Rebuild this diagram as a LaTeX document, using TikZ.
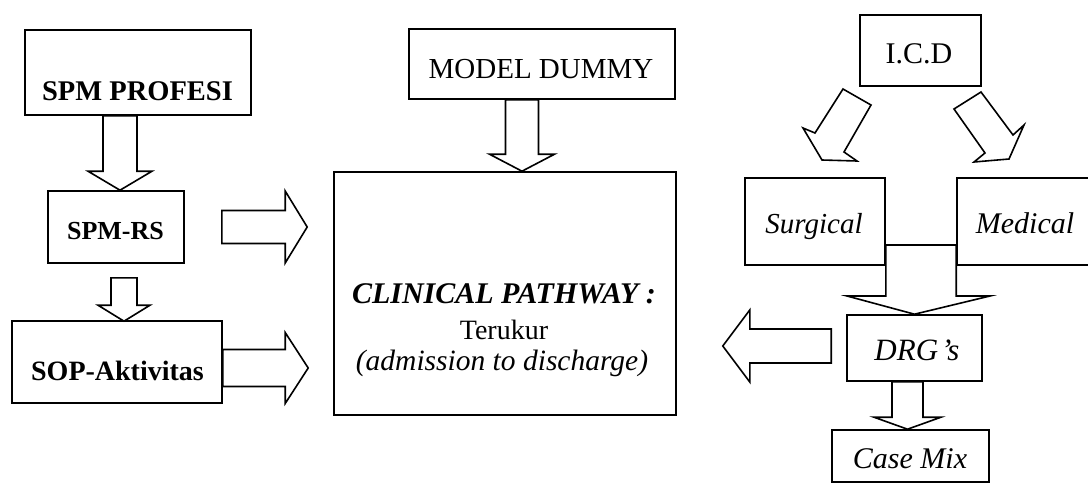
\documentclass[tikz,border=0pt]{standalone}
\usepackage{fontspec}
\setmainfont{Liberation Serif}
\usetikzlibrary{calc}
\newcommand\dnarrow[5]{\draw[barrow] let \p1=#1, \p2=#2 in
  (\x2-#3,\y1) -- (\x2+#3,\y1) -- (\x2+#3,\y2+#5) -- (\x2+#4,\y2+#5) -- (\x2,\y2)
  -- (\x2-#4,\y2+#5) -- (\x2-#3,\y2+#5) -- cycle;}
\newcommand\rtarrow[5]{\draw[barrow] let \p1=#1, \p2=#2 in
  (\x1,\y2+#3) -- (\x2-#5,\y2+#3) -- (\x2-#5,\y2+#4) -- (\x2,\y2)
  -- (\x2-#5,\y2-#4) -- (\x2-#5,\y2-#3) -- (\x1,\y2-#3) -- cycle;}
\newcommand\ltarrow[5]{\draw[barrow] let \p1=#1, \p2=#2 in
  (\x1,\y2+#3) -- (\x2+#5,\y2+#3) -- (\x2+#5,\y2+#4) -- (\x2,\y2)
  -- (\x2+#5,\y2-#4) -- (\x2+#5,\y2-#3) -- (\x1,\y2-#3) -- cycle;}
\begin{document}
\begin{tikzpicture}[x=1pt,y=-1pt,
  box/.style={draw, line width=1.6pt, inner sep=0pt},
  lbl/.style={anchor=base, inner sep=0pt},
  barrow/.style={draw, line width=1.6pt, line join=miter}]
\useasboundingbox (0,0) rectangle (1088,485);

% left column
\node[box, minimum width=226pt, minimum height=85pt] (spmprof) at (138,72.5) {};
\node[lbl, font=\fontsize{28.5}{34}\selectfont\bfseries] (spmproftxt) at (137.5,100) {SPM PROFESI};
\node[box, minimum width=136pt, minimum height=72pt] (spmrs) at (116,227) {};
\node[lbl, font=\fontsize{26}{32}\selectfont\bfseries] (spmrstxt) at (115.5,239) {SPM-RS};
\node[box, minimum width=210pt, minimum height=82pt] (sop) at (117,362) {};
\node[lbl, font=\fontsize{28}{34}\selectfont\bfseries] (soptxt) at (117.5,380) {SOP-Aktivitas};

% centre
\node[box, minimum width=266pt, minimum height=70pt] (model) at (542,64) {};
\node[lbl, font=\fontsize{29}{34}\selectfont] (modeltxt) at (541,78) {MODEL DUMMY};
\node[box, minimum width=342pt, minimum height=243pt] (clin) at (505,293.5) {};
\node[lbl, font=\fontsize{30}{34}\selectfont\bfseries\itshape] (clin1) at (504,303) {CLINICAL PATHWAY :};
\node[lbl, font=\fontsize{28}{34}\selectfont] (clin2) at (504,339) {Terukur};
\node[lbl, font=\fontsize{29.5}{34}\selectfont\itshape] (clin3) at (502,370) {(admission to discharge)};

% right column
\node[box, minimum width=121pt, minimum height=71pt] (icd) at (920.5,50.5) {};
\node[lbl, font=\fontsize{30}{34}\selectfont] (icdtxt) at (919,63) {I.C.D};
\node[box, minimum width=140pt, minimum height=87pt] (surg) at (815,221.5) {};
\node[lbl, font=\fontsize{29}{34}\selectfont\itshape] (surgtxt) at (814,233) {Surgical};
\node[box, minimum width=136pt, minimum height=87pt] (med) at (1025,221.5) {};
\node[lbl, font=\fontsize{30}{34}\selectfont\itshape] (medtxt) at (1025,233) {Medical};
\node[box, minimum width=135pt, minimum height=66pt] (drg) at (914.5,348) {};
\node[lbl, font=\fontsize{31}{34}\selectfont\itshape] (drgtxt) at (917,360) {DRG\kern3pt's};
\node[box, minimum width=157pt, minimum height=52pt] (casemix) at (910.5,456) {};
\node[lbl, font=\fontsize{30}{34}\selectfont\itshape] (casemixtxt) at (910,468) {Case Mix};

% block arrows
\dnarrow{(spmprof.south)}{($(spmrs.north)+(4,0)$)}{17}{32}{19}
\dnarrow{($(spmrs.south)+(0,14)$)}{($(sop.north)+(7,1)$)}{13}{26}{16}
\dnarrow{(model.south)}{($(clin.north)+(17,0)$)}{16.5}{32.5}{17}
\dnarrow{(drg.south)}{($(casemix.north)+(-3,0)$)}{15.5}{33.5}{12}
\rtarrow{($(spmrs.east)+(37,0)$)}{($(clin.west |- spmrs.east)+(-26,0)$)}{16.5}{36}{22}
\rtarrow{(sop.east)}{($(clin.west |- sop.east)+(-25,6)$)}{18.5}{35.5}{23}
\ltarrow{($(drg.west)+(-15,-3)$)}{($(clin.east |- drg.west)+(46,-2)$)}{17}{36}{27}

% I.C.D to Surgical / Medical
\draw[barrow] (843,89) -- (871,105) -- (844,152) -- (857,161) -- (822,160)
  -- (803,128) -- (815,133) -- cycle;
\draw[barrow] (954,109) -- (981,92) -- (1013,135) -- (1024,125) -- (1009,159)
  -- (974,162) -- (985,153) -- cycle;

% Surgical + Medical to DRG's
\draw[barrow] (surg.east |- 0,245) -- (med.west |- 0,245) -- (med.west |- 0,296)
  -- (990,296) -- (drg.north) -- (847,296) -- (surg.east |- 0,296) -- cycle;
\end{tikzpicture}
\end{document}
